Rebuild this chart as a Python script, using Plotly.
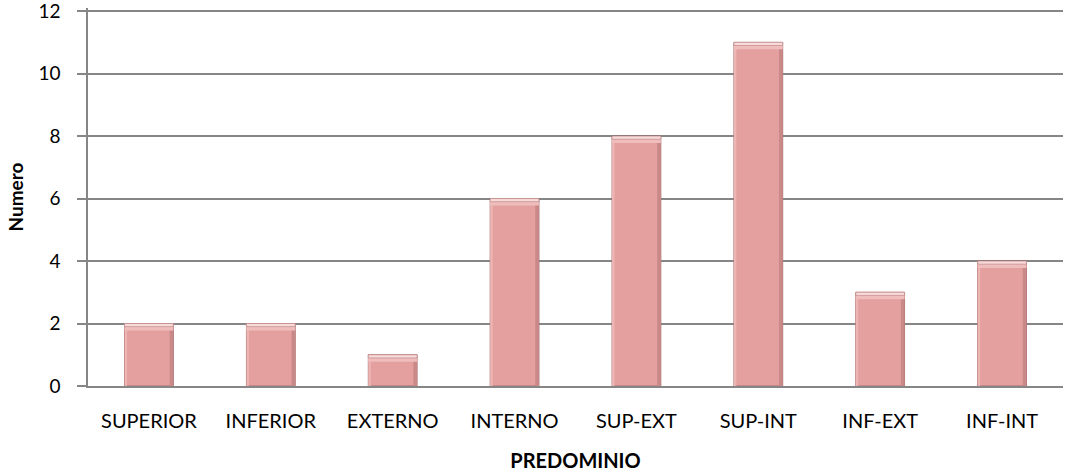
import plotly.graph_objects as go

categories = ["SUPERIOR", "INFERIOR", "EXTERNO", "INTERNO", "SUP-EXT", "SUP-INT", "INF-EXT", "INF-INT"]
values = [2, 2, 1, 6, 8, 11, 3, 4]
y_ticks = [0, 2, 4, 6, 8, 10, 12]

FONT = "Lato, Carlito, Calibri, sans-serif"
BAR_W = 0.4

fig = go.Figure()
# main bars
fig.add_trace(go.Bar(
    x=categories, y=values, width=BAR_W,
    marker=dict(color="#E3A09F", line=dict(color="#A86F6E", width=1)),
    hoverinfo="x+y",
))
# right-side darker shading (bevel)
fig.add_trace(go.Bar(
    x=categories, y=values, width=0.03, offset=BAR_W / 2 - 0.03,
    marker=dict(color="#C98988", line=dict(width=0)),
    hoverinfo="skip",
))
# left-side lighter shading (bevel)
fig.add_trace(go.Bar(
    x=categories, y=values, width=0.02, offset=-BAR_W / 2,
    marker=dict(color="#EDB6B5", line=dict(width=0)),
    hoverinfo="skip",
))
# top highlight (bevel)
fig.add_trace(go.Bar(
    x=categories, y=[0.22] * len(values), base=[v - 0.22 for v in values], width=BAR_W,
    marker=dict(color="#EFBDBC", line=dict(width=0)),
    hoverinfo="skip",
))
fig.add_trace(go.Bar(
    x=categories, y=[0.1] * len(values), base=[v - 0.1 for v in values], width=BAR_W,
    marker=dict(color="#F9DADA", line=dict(color="#A86F6E", width=0.5)),
    hoverinfo="skip",
))

fig.update_layout(
    width=1065, height=472,
    margin=dict(l=88, r=2, t=8, b=86),
    paper_bgcolor="white", plot_bgcolor="white",
    showlegend=False, barmode="overlay",
    font=dict(family=FONT, size=20, color="black"),
    xaxis=dict(
        showline=True, linecolor="#868686", linewidth=1.5, automargin=False,
        tickfont=dict(size=20), ticks="", ticklabelstandoff=16,
        title=dict(text="<b>PREDOMINIO</b>", font=dict(size=20), standoff=24),
    ),
    yaxis=dict(
        range=[0, 12.1], tickvals=y_ticks, showline=True, linecolor="#868686", linewidth=1.5,
        showgrid=True, gridcolor="#868686", gridwidth=1.5, zeroline=False, automargin=False,
        ticks="outside", ticklen=9, tickcolor="#868686", tickwidth=1.5,
        tickfont=dict(size=19), ticklabelstandoff=13, ticklabeloverflow="allow",
        title=dict(text="<b>Numero</b>", font=dict(size=19), standoff=10),
    ),
)
fig.write_html("out.html")
